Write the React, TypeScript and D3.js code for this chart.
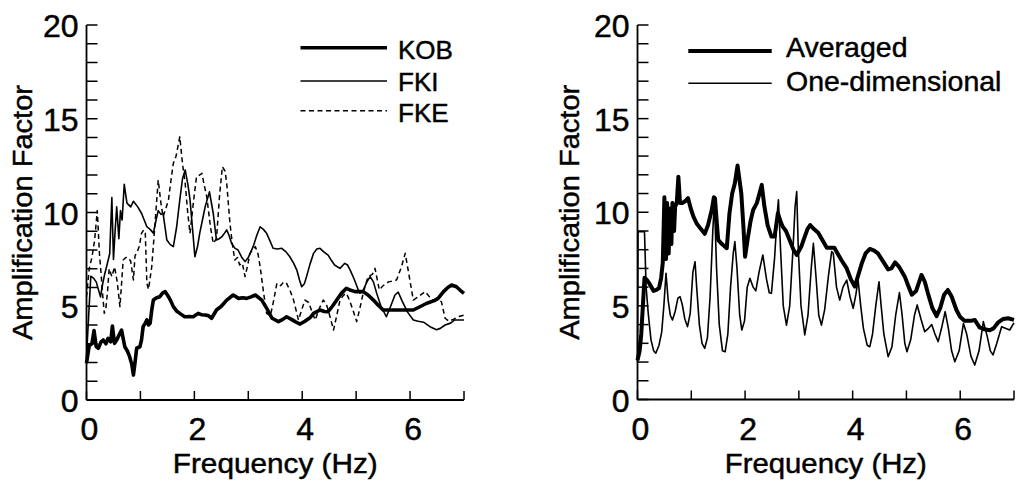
import React from 'react';
import * as d3 from 'd3';

// ---------- data ----------
const xTickValues = [0, 1, 2, 3, 4, 5, 6, 7];
const xTickLabels = [0, 2, 4, 6];
const yTickValues = [0, 1, 2, 3, 4, 5, 6, 7, 8, 9, 10, 11, 12, 13, 14, 15, 16, 17, 18, 19, 20];
const yTickLabels = [0, 5, 10, 15, 20];

const leftSeriesNames = ['KOB', 'FKI', 'FKE'];
const rightSeriesNames = ['Averaged', 'One-dimensional'];

const kob: [number, number][] = [
  [0, 1.96], [0.05, 2.9], [0.1, 3.0], [0.14, 3.7], [0.18, 2.85], [0.22, 2.76], [0.27, 3.1], [0.31, 3.2],
  [0.36, 3.0], [0.4, 3.29], [0.45, 3.1], [0.48, 3.95], [0.52, 3.02], [0.56, 3.2], [0.59, 3.38], [0.65, 3.73],
  [0.71, 2.84], [0.76, 2.6], [0.8, 2.31], [0.84, 1.9], [0.87, 1.33], [0.9, 2.0], [0.93, 2.76], [0.99, 2.84],
  [1.02, 3.2], [1.05, 3.91], [1.09, 4.1], [1.12, 4.27], [1.15, 4.0], [1.18, 4.09], [1.21, 4.8], [1.24, 5.33],
  [1.3, 5.45], [1.36, 5.51], [1.41, 5.7], [1.46, 5.78], [1.52, 5.51], [1.56, 5.3], [1.61, 4.98], [1.67, 4.75],
  [1.73, 4.62], [1.82, 4.44], [1.9, 4.45], [1.98, 4.44], [2.07, 4.62], [2.13, 4.55], [2.2, 4.53], [2.26, 4.5],
  [2.32, 4.36], [2.41, 4.8], [2.5, 5.0], [2.6, 5.33], [2.72, 5.6], [2.82, 5.42], [2.9, 5.45], [2.97, 5.42],
  [3.05, 5.5], [3.13, 5.6], [3.25, 5.33], [3.35, 4.85], [3.44, 4.36], [3.56, 4.18], [3.64, 4.3], [3.71, 4.44],
  [3.8, 4.3], [3.87, 4.18], [3.96, 4.05], [4.05, 4.2], [4.15, 4.4], [4.21, 4.62], [4.33, 4.8], [4.41, 4.72],
  [4.48, 4.71], [4.56, 5.0], [4.64, 5.33], [4.73, 5.7], [4.82, 5.96], [4.9, 5.85], [4.98, 5.78], [5.13, 5.78],
  [5.22, 5.6], [5.32, 5.33], [5.41, 5.05], [5.5, 4.8], [5.81, 4.8], [6.06, 4.8], [6.2, 5.0], [6.31, 5.16],
  [6.45, 5.3], [6.52, 5.42], [6.62, 5.78], [6.7, 6.0], [6.77, 6.13], [6.86, 6.04], [6.93, 5.85], [7.0, 5.69],
];

const fki: [number, number][] = [
  [0, 2.3], [0.04, 4.5], [0.08, 6.6], [0.13, 6.5], [0.18, 6.3], [0.22, 5.9], [0.26, 5.5], [0.3, 6.2],
  [0.34, 6.75], [0.38, 7.2], [0.43, 7.8], [0.47, 10.8], [0.5, 7.5], [0.53, 9.0], [0.56, 10.3], [0.6, 8.6],
  [0.63, 10.1], [0.66, 9.6], [0.7, 11.5], [0.75, 10.5], [0.82, 10.3], [0.87, 10.6], [0.95, 10.3], [1.02, 9.96],
  [1.07, 9.6], [1.12, 9.24], [1.18, 9.1], [1.24, 8.9], [1.29, 9.6], [1.33, 10.1], [1.38, 9.9], [1.42, 9.96],
  [1.49, 8.53], [1.55, 8.3], [1.61, 8.18], [1.67, 9.2], [1.73, 10.67], [1.78, 11.8], [1.83, 12.27], [1.88, 11.5],
  [1.92, 10.67], [1.97, 9.0], [2.01, 7.64], [2.06, 8.2], [2.1, 8.9], [2.15, 9.6], [2.2, 10.3], [2.28, 11.1],
  [2.35, 9.96], [2.41, 8.53], [2.46, 8.6], [2.51, 8.71], [2.56, 8.9], [2.6, 9.07], [2.64, 8.8], [2.69, 8.36],
  [2.75, 8.1], [2.81, 8.0], [2.88, 7.6], [2.94, 7.38], [3.0, 7.6], [3.09, 8.18], [3.16, 8.8], [3.22, 9.24],
  [3.28, 9.1], [3.34, 8.89], [3.4, 8.5], [3.46, 8.09], [3.54, 8.05], [3.62, 8.09], [3.7, 7.9], [3.77, 7.64],
  [3.84, 7.3], [3.9, 6.93], [3.95, 6.4], [3.99, 6.04], [4.04, 6.2], [4.08, 6.58], [4.15, 7.3], [4.21, 7.82],
  [4.27, 8.05], [4.33, 8.09], [4.4, 7.9], [4.48, 7.73], [4.54, 7.45], [4.6, 7.2], [4.7, 7.02], [4.79, 7.29],
  [4.84, 7.2], [4.89, 6.93], [4.97, 6.4], [5.04, 5.87], [5.07, 5.7], [5.12, 5.8], [5.2, 6.3], [5.26, 6.58],
  [5.32, 6.3], [5.38, 5.7], [5.46, 5.0], [5.56, 4.44], [5.64, 5.0], [5.72, 5.6], [5.78, 5.75], [5.85, 5.3],
  [5.95, 4.7], [6.06, 4.27], [6.15, 4.2], [6.25, 4.15], [6.37, 3.91], [6.49, 3.75], [6.56, 3.82], [6.65, 4.0],
  [6.75, 4.1], [6.83, 4.27], [7.0, 4.27],
];

const fke: [number, number][] = [
  [0, 5.5], [0.05, 7.0], [0.1, 7.6], [0.15, 8.5], [0.2, 10.1], [0.24, 7.8], [0.27, 6.76], [0.3, 5.6],
  [0.33, 4.62], [0.36, 4.9], [0.39, 5.8], [0.42, 7.0], [0.47, 6.58], [0.52, 7.1], [0.57, 6.3], [0.62, 4.98],
  [0.65, 6.2], [0.68, 7.47], [0.73, 7.6], [0.77, 7.6], [0.82, 7.4], [0.87, 6.4], [0.9, 7.7], [0.93, 7.82],
  [0.98, 8.2], [1.02, 8.89], [1.06, 9.07], [1.09, 8.9], [1.12, 6.22], [1.15, 5.9], [1.21, 7.11], [1.26, 9.0],
  [1.33, 11.73], [1.38, 10.5], [1.42, 9.78], [1.47, 10.2], [1.52, 10.67], [1.57, 11.8], [1.61, 12.62], [1.66, 13.0],
  [1.73, 14.04], [1.78, 12.6], [1.83, 11.56], [1.88, 9.9], [1.92, 8.89], [1.98, 10.5], [2.04, 11.91], [2.1, 12.0],
  [2.14, 12.09], [2.18, 11.5], [2.23, 10.84], [2.3, 9.2], [2.35, 8.36], [2.41, 8.6], [2.47, 11.0], [2.52, 12.44],
  [2.57, 12.2], [2.6, 11.56], [2.66, 9.42], [2.71, 8.2], [2.75, 7.47], [2.8, 7.6], [2.84, 7.2], [2.89, 7.3],
  [2.94, 6.58], [2.99, 7.2], [3.03, 7.82], [3.13, 8.18], [3.18, 7.8], [3.22, 7.11], [3.28, 5.8], [3.34, 4.62],
  [3.41, 4.5], [3.47, 5.3], [3.53, 6.22], [3.6, 6.1], [3.66, 6.3], [3.71, 6.22], [3.78, 5.8], [3.84, 5.33],
  [3.93, 4.27], [3.99, 4.8], [4.05, 5.33], [4.12, 5.2], [4.17, 4.8], [4.24, 4.27], [4.32, 4.9], [4.39, 5.33],
  [4.45, 5.1], [4.52, 4.4], [4.58, 3.73], [4.64, 4.5], [4.7, 5.33], [4.77, 5.6], [4.82, 5.69], [4.88, 5.3],
  [4.94, 4.8], [5.01, 4.18], [5.07, 4.9], [5.13, 5.69], [5.22, 6.58], [5.3, 6.7], [5.35, 7.02], [5.4, 6.3],
  [5.43, 5.87], [5.5, 6.1], [5.6, 6.3], [5.68, 6.35], [5.75, 6.4], [5.84, 7.1], [5.91, 7.82], [5.96, 7.0],
  [6.02, 6.0], [6.06, 5.33], [6.15, 5.5], [6.28, 5.78], [6.36, 5.5], [6.43, 5.33], [6.5, 5.35], [6.58, 5.25],
  [6.65, 4.36], [6.72, 4.2], [6.8, 4.3], [6.9, 4.45], [7.0, 4.53],
];

const averaged: [number, number][] = [
  [0, 2.1], [0.04, 2.6], [0.07, 3.5], [0.1, 5.0], [0.13, 6.5], [0.17, 6.4], [0.22, 6.2], [0.26, 6.0],
  [0.3, 5.8], [0.35, 5.85], [0.4, 5.95], [0.44, 6.5], [0.47, 7.3], [0.5, 10.8], [0.53, 7.5], [0.55, 10.5],
  [0.58, 7.8], [0.6, 10.2], [0.63, 8.3], [0.65, 10.5], [0.68, 9.0], [0.7, 10.3], [0.73, 10.5], [0.76, 11.9],
  [0.79, 10.5], [0.84, 10.5], [0.89, 10.6], [0.94, 10.75], [0.99, 10.2], [1.04, 9.77], [1.1, 9.4], [1.18, 9.1],
  [1.25, 8.85], [1.31, 9.3], [1.38, 10.12], [1.42, 10.8], [1.44, 10.75], [1.47, 9.6], [1.5, 8.52], [1.57, 8.3],
  [1.66, 8.08], [1.71, 9.95], [1.76, 11.0], [1.81, 11.55], [1.86, 12.5], [1.93, 11.0], [1.97, 9.2], [2.0, 7.63],
  [2.05, 8.6], [2.1, 9.5], [2.15, 10.12], [2.22, 10.5], [2.31, 11.46], [2.36, 10.3], [2.42, 9.3], [2.49, 8.7],
  [2.55, 8.7], [2.61, 9.95], [2.66, 9.5], [2.7, 9.23], [2.76, 9.0], [2.83, 8.5], [2.9, 8.0], [2.96, 7.72],
  [3.05, 8.2], [3.11, 8.7], [3.16, 9.1], [3.21, 9.32], [3.28, 9.1], [3.36, 8.9], [3.44, 8.5], [3.52, 8.1],
  [3.6, 8.1], [3.66, 8.1], [3.72, 7.8], [3.79, 7.45], [3.89, 7.0], [3.97, 6.4], [4.04, 6.03], [4.1, 6.6],
  [4.17, 7.27], [4.24, 7.8], [4.32, 8.04], [4.4, 7.95], [4.47, 7.8], [4.56, 7.4], [4.66, 6.95], [4.72, 7.0],
  [4.79, 7.32], [4.86, 7.1], [4.97, 6.56], [5.03, 6.1], [5.1, 5.6], [5.18, 5.8], [5.28, 6.65], [5.34, 6.3],
  [5.4, 5.67], [5.48, 4.9], [5.56, 4.45], [5.63, 4.9], [5.7, 5.6], [5.77, 5.85], [5.84, 5.5], [5.93, 4.78],
  [6.0, 4.4], [6.08, 4.2], [6.2, 4.2], [6.27, 4.25], [6.36, 3.85], [6.45, 3.75], [6.55, 3.7], [6.62, 3.8],
  [6.7, 4.1], [6.8, 4.3], [6.89, 4.34], [7.0, 4.25],
];

const oneDimensional: [number, number][] = [
  [0, 2.0], [0.01, 8.96], [0.13, 8.96], [0.16, 6.0], [0.2, 4.6], [0.25, 3.2], [0.3, 2.6], [0.34, 2.47],
  [0.4, 2.9], [0.45, 3.6], [0.49, 5.0], [0.53, 6.74], [0.57, 5.3], [0.61, 4.5], [0.65, 4.25], [0.7, 4.7],
  [0.75, 5.4], [0.79, 5.5], [0.83, 5.1], [0.88, 4.3], [0.93, 3.89], [0.98, 4.6], [1.03, 6.8], [1.07, 7.36],
  [1.1, 6.0], [1.15, 4.0], [1.2, 3.0], [1.25, 2.73], [1.3, 3.3], [1.35, 5.5], [1.4, 9.0], [1.43, 10.6],
  [1.47, 7.0], [1.52, 4.0], [1.58, 2.6], [1.63, 2.55], [1.68, 3.5], [1.73, 6.0], [1.78, 7.8], [1.81, 8.43],
  [1.85, 7.0], [1.9, 4.5], [1.94, 3.71], [1.99, 4.2], [2.04, 6.0], [2.09, 6.47], [2.15, 6.0], [2.2, 5.8],
  [2.26, 6.8], [2.33, 7.72], [2.4, 6.4], [2.45, 5.7], [2.49, 5.67], [2.55, 7.6], [2.6, 10.0], [2.62, 10.66],
  [2.66, 8.0], [2.71, 5.0], [2.77, 3.97], [2.83, 5.0], [2.89, 8.0], [2.93, 10.3], [2.96, 11.1], [2.99, 8.0],
  [3.04, 5.0], [3.11, 3.45], [3.17, 4.5], [3.23, 7.0], [3.27, 8.34], [3.32, 6.5], [3.37, 4.5], [3.42, 3.97],
  [3.48, 4.8], [3.55, 6.6], [3.61, 7.9], [3.64, 7.81], [3.7, 6.0], [3.76, 5.31], [3.82, 6.0], [3.89, 6.38],
  [3.95, 5.5], [4.01, 4.87], [4.06, 5.6], [4.1, 6.4], [4.15, 5.0], [4.2, 3.8], [4.27, 2.9], [4.32, 2.82],
  [4.37, 3.5], [4.43, 5.0], [4.49, 6.29], [4.53, 5.0], [4.58, 3.5], [4.66, 2.29], [4.73, 2.8], [4.8, 4.5],
  [4.87, 5.71], [4.92, 4.5], [4.97, 3.0], [5.01, 2.55], [5.08, 3.2], [5.15, 4.5], [5.2, 5.05], [5.27, 4.3],
  [5.34, 3.62], [5.41, 3.8], [5.47, 4.0], [5.53, 3.5], [5.59, 3.09], [5.66, 3.9], [5.72, 4.69], [5.78, 3.8],
  [5.84, 2.6], [5.9, 2.02], [5.98, 2.6], [6.06, 4.07], [6.12, 3.5], [6.2, 2.3], [6.27, 1.84], [6.35, 2.6],
  [6.43, 4.16], [6.5, 3.4], [6.56, 2.6], [6.61, 2.38], [6.68, 3.0], [6.77, 3.89], [6.84, 3.8], [6.92, 3.71],
  [6.96, 3.9], [7.0, 4.1],
];

// ---------- drawing ----------
const FONT = '"Liberation Sans", Arial, Helvetica, sans-serif';
const TEXT_STROKE = 0.45;

type Style = { width: number; dash?: string };
type SeriesDef = { name: string; data: [number, number][]; style: Style };

type PanelProps = {
  xRange: [number, number];
  yRange: [number, number];
  series: SeriesDef[];
  legend: { x1: number; x2: number; tx: number; ly: number[]; ty: number[]; fontSize: number };
  yTitleX: number;
  xTitleLen: number;
};

function Panel({ xRange, yRange, series, legend, yTitleX, xTitleLen }: PanelProps) {
  const x = d3.scaleLinear().domain([0, 7]).range(xRange);
  const y = d3.scaleLinear().domain([0, 20]).range(yRange);
  const line = d3
    .line<[number, number]>()
    .x((d) => x(d[0]))
    .y((d) => y(d[1]))
    .curve(d3.curveLinear);
  const x0 = x(0);
  const y0 = y(0);
  const xCenter = (xRange[0] + xRange[1]) / 2;
  const yCenter = (yRange[0] + yRange[1]) / 2;
  const textProps = { fontFamily: FONT, fill: '#000', stroke: '#000', strokeWidth: TEXT_STROKE };
  return (
    <g>
      {series.map((s) => (
        <path
          key={s.name}
          d={line(s.data) || ''}
          fill="none"
          stroke="#000"
          strokeWidth={s.style.width}
          strokeDasharray={s.style.dash}
          strokeLinejoin="round"
        />
      ))}
      <line x1={x0} x2={x0} y1={y(20)} y2={y0} stroke="#000" strokeWidth={1.8} />
      <line x1={x0} x2={x(7)} y1={y0} y2={y0} stroke="#000" strokeWidth={1.8} />
      {yTickValues.map((v) => (
        <line key={'yt' + v} x1={x0} x2={x0 + 11} y1={y(v)} y2={y(v)} stroke="#000" strokeWidth={1.5} />
      ))}
      {xTickValues.map((v) => (
        <line key={'xt' + v} x1={x(v)} x2={x(v)} y1={y0} y2={y0 - 9} stroke="#000" strokeWidth={1.5} />
      ))}
      {yTickLabels.map((v) => (
        <text key={'yl' + v} x={x0 - 8} y={y(v) + 12} textAnchor="end" fontSize={32} {...textProps}>
          {v}
        </text>
      ))}
      {xTickLabels.map((v) => (
        <text key={'xl' + v} x={x(v) + 3} y={440} textAnchor="middle" fontSize={32} {...textProps}>
          {v}
        </text>
      ))}
      <text
        x={xCenter}
        y={473}
        textAnchor="middle"
        fontSize={27}
        textLength={xTitleLen}
        lengthAdjust="spacingAndGlyphs"
        {...textProps}
      >
        Frequency (Hz)
      </text>
      <text
        transform={`translate(${yTitleX},${yCenter}) rotate(-90)`}
        textAnchor="middle"
        fontSize={27}
        textLength={255}
        lengthAdjust="spacingAndGlyphs"
        {...textProps}
      >
        Amplification Factor
      </text>
      {series.map((s, i) => (
        <g key={'lg' + s.name}>
          <line
            x1={legend.x1}
            x2={legend.x2}
            y1={legend.ly[i]}
            y2={legend.ly[i]}
            stroke="#000"
            strokeWidth={s.style.width}
            strokeDasharray={s.style.dash}
          />
          <text x={legend.tx} y={legend.ty[i]} fontSize={legend.fontSize} {...textProps}>
            {s.name}
          </text>
        </g>
      ))}
    </g>
  );
}

export default function App() {
  const leftSeries: SeriesDef[] = [
    { name: leftSeriesNames[0], data: kob, style: { width: 3.6 } },
    { name: leftSeriesNames[1], data: fki, style: { width: 1.6 } },
    { name: leftSeriesNames[2], data: fke, style: { width: 1.5, dash: '5,3.5' } },
  ];
  const rightSeries: SeriesDef[] = [
    { name: rightSeriesNames[0], data: averaged, style: { width: 4 } },
    { name: rightSeriesNames[1], data: oneDimensional, style: { width: 1.6 } },
  ];
  return (
    <svg
      width={1016}
      height={482}
      style={{ position: 'absolute', left: 0, top: 0, display: 'block', background: '#fff' }}
    >
      <rect x={0} y={0} width={1016} height={482} fill="#fff" />
      <Panel
        xRange={[86.5, 464]}
        yRange={[400, 25]}
        series={leftSeries}
        legend={{ x1: 300.5, x2: 387, tx: 398, ly: [47.7, 81, 110.7], ty: [59.3, 90.7, 121.7], fontSize: 26 }}
        yTitleX={32}
        xTitleLen={205}
      />
      <Panel
        xRange={[637.5, 1014]}
        yRange={[399.5, 25]}
        series={rightSeries}
        legend={{ x1: 688.3, x2: 771.7, tx: 786, ly: [51, 83.3], ty: [57, 90.7], fontSize: 28.5 }}
        yTitleX={578.7}
        xTitleLen={202}
      />
    </svg>
  );
}
